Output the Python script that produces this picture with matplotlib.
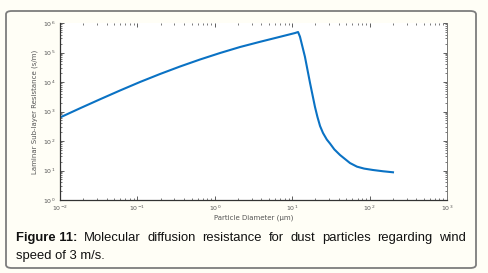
import matplotlib
matplotlib.use("Agg")
import matplotlib.pyplot as plt
from matplotlib.patches import FancyBboxPatch
import numpy as np

diameter_um = [0.01, 0.0181, 0.0329, 0.0596, 0.108, 0.196, 0.355, 0.644, 1.17, 2.12, 3.84, 6.96,
               10.9, 11.9, 12.6, 14.6, 17.0, 19.7, 21.2, 22.9, 25.0, 28.0, 30.8, 35.0, 41.5, 55.8, 68.7, 85.0, 110.6, 150.0, 200.5]
resistance = [627, 1283, 2594, 5152, 10000, 18660, 33500, 57900, 96200, 153600, 230500, 340500,
              458000, 495000, 343500, 72100, 9250, 1422, 651, 322, 187, 112, 82, 52, 33.5, 17.9, 13.5, 11.6, 10.4, 9.4, 8.7]

x_ticks = [1e-2, 1e-1, 1e0, 1e1, 1e2, 1e3]
x_tick_labels = [r"$10^{-2}$", r"$10^{-1}$", r"$10^{0}$", r"$10^{1}$", r"$10^{2}$", r"$10^{3}$"]
y_ticks = [1e0, 1e1, 1e2, 1e3, 1e4, 1e5, 1e6]
y_tick_labels = [r"$10^{0}$", r"$10^{1}$", r"$10^{2}$", r"$10^{3}$", r"$10^{4}$", r"$10^{5}$", r"$10^{6}$"]

x_label = "Particle Diameter (μm)"
y_label = "Laminar Sub-layer Resistance (s/m)"
caption_bold = "Figure 11:"
caption_line1 = "Molecular diffusion resistance for dust particles regarding wind"
caption_line2 = "speed of 3 m/s."

W, H = 488, 273
fig = plt.figure(figsize=(W / 100, H / 100), dpi=100)
bg = "#fffef6"
fig.patch.set_facecolor(bg)

# rounded border
border = FancyBboxPatch((6 / W, 5 / H), (476 - 6) / W, (262 - 5) / H,
                        boxstyle="round,pad=0,rounding_size=0.012",
                        transform=fig.transFigure, facecolor=bg,
                        edgecolor="#7d7d7d", linewidth=1.3, zorder=-5)
fig.patches.append(border)

ax = fig.add_axes([60 / W, 1 - 200 / H, (447 - 60) / W, (200 - 23) / H])
ax.set_zorder(2)
ax.set_facecolor("white")
ax.plot(diameter_um, resistance, color="#0a72c4", linewidth=1.5)
ax.set_xscale("log")
ax.set_yscale("log")
ax.set_xlim(1e-2, 1e3)
ax.set_ylim(1e0, 1e6)
ax.set_xticks(x_ticks)
ax.set_xticklabels(x_tick_labels)
ax.set_yticks(y_ticks)
ax.set_yticklabels(y_tick_labels)
ax.tick_params(which="both", direction="in", top=True, right=True,
               labelsize=4.5, labelcolor="#555555", color="#444444", pad=3)
ax.tick_params(which="major", length=3, width=0.6)
ax.tick_params(which="minor", length=1.6, width=0.5)
for s in ["left", "bottom"]:
    ax.spines[s].set_color("#333333")
    ax.spines[s].set_linewidth(0.9)
ax.spines["right"].set_color("#777777")
ax.spines["right"].set_linewidth(0.7)
ax.spines["top"].set_visible(False)
ax.set_xlabel(x_label, fontsize=5, color="#555555", labelpad=0.5)
ax.set_ylabel(y_label, fontsize=5, color="#555555", labelpad=4)

# caption, justified first line
fig.canvas.draw()
renderer = fig.canvas.get_renderer()
fs = 9.4
left_px, right_px = 16, 466
y1 = 1 - 241 / H
y2 = 1 - 259 / H
words = [(caption_bold, "bold")] + [(w, "normal") for w in caption_line1.split()]
texts = []
widths = []
for w, wt in words:
    t = fig.text(0, y1, w, fontsize=fs, fontweight=wt, family="Liberation Sans",
                 color="#111111", va="baseline", ha="left")
    bb = t.get_window_extent(renderer)
    texts.append(t)
    widths.append(bb.width)
gap = (right_px - left_px - sum(widths)) / (len(words) - 1)
x = left_px
for t, wd in zip(texts, widths):
    t.set_x(x / W)
    x += wd + gap
fig.text(left_px / W, y2, caption_line2, fontsize=fs, family="Liberation Sans",
         color="#111111", va="baseline", ha="left")

fig.savefig("out.png", dpi=100, facecolor=fig.get_facecolor())
